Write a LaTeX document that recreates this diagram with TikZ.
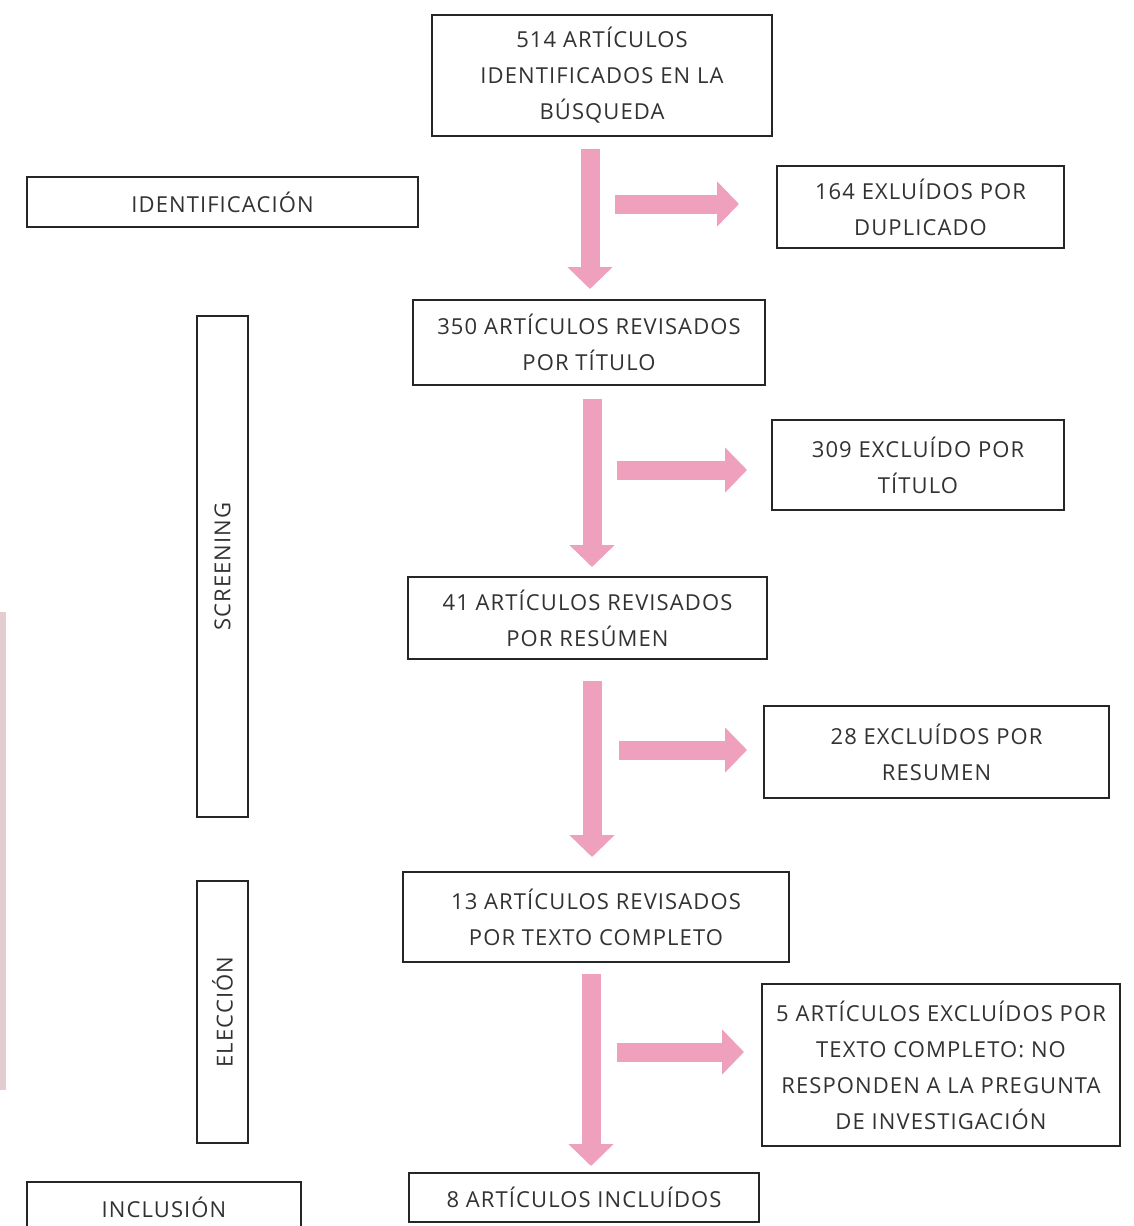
\documentclass[tikz,border=0pt]{standalone}
\usepackage{fontspec}
\setmainfont[LetterSpace=5]{Open Sans}
\usepackage{tikz}
\usetikzlibrary{arrows.meta}
\definecolor{flowpink}{RGB}{238,160,188}
\definecolor{stripbg}{RGB}{227,205,207}
\definecolor{textgrey}{RGB}{50,50,50}
\tikzset{
	boxstyle/.style={rectangle,draw=black!85,line width=2pt,fill=white,text=textgrey,align=center,inner sep=0pt},
	phasestyle/.style={boxstyle,rotate=90},
	arrowstyle/.style={draw=flowpink,line width=19pt,-{Triangle[width=44pt,length=22pt]}}
}

\begin{document}
\begin{tikzpicture}[x=1pt,y=-1pt]
	\fontsize{22}{36}\selectfont
	\useasboundingbox (0,0) rectangle (1133,1226);
	\clip (0,0) rectangle (1133,1226);
	\fill[stripbg] (0,612) rectangle (6,1090);
	% main column
	\node[boxstyle,minimum width=340,minimum height=121] (busq) at (602,75.5) {514 ARTÍCULOS\\IDENTIFICADOS EN LA\\BÚSQUEDA};
	\node[boxstyle,minimum width=352,minimum height=85] (tit) at (589,342.5) {350 ARTÍCULOS REVISADOS\\POR TÍTULO};
	\node[boxstyle,minimum width=359,minimum height=82] (res) at (587.5,618) {41 ARTÍCULOS REVISADOS\\POR RESÚMEN};
	\node[boxstyle,minimum width=386,minimum height=90] (txt) at (596,917) {13 ARTÍCULOS REVISADOS\\POR TEXTO COMPLETO};
	\node[boxstyle,minimum width=350,minimum height=49] (incl) at (584,1197.5) {8 ARTÍCULOS INCLUÍDOS};
	% excluded
	\node[boxstyle,minimum width=287,minimum height=82] (ex1) at (920.5,207) {164 EXLUÍDOS POR\\DUPLICADO};
	\node[boxstyle,minimum width=292,minimum height=90] (ex2) at (918,465) {309 EXCLUÍDO POR\\TÍTULO};
	\node[boxstyle,minimum width=345,minimum height=92] (ex3) at (936.5,752) {28 EXCLUÍDOS POR\\RESUMEN};
	\node[boxstyle,minimum width=358,minimum height=162] (ex4) at (941,1065) {5 ARTÍCULOS EXCLUÍDOS POR\\TEXTO COMPLETO: NO\\RESPONDEN A LA PREGUNTA\\DE INVESTIGACIÓN};
	% phases
	\node[boxstyle,minimum width=391,minimum height=50] (ident) at (222.5,202) {IDENTIFICACIÓN};
	\node[phasestyle,minimum width=501,minimum height=51] (scr) at (222.5,566.5) {SCREENING};
	\node[phasestyle,minimum width=262,minimum height=51] (elec) at (222.5,1012) {ELECCIÓN};
	\node[boxstyle,minimum width=274,minimum height=50] (inc) at (164,1207) {INCLUSIÓN};
	% arrows
	\coordinate (col) at (590,0);
	\draw[arrowstyle,shorten <=12pt,shorten >=10pt] (busq.south -| col) -- (tit.north -| col);
	\draw[arrowstyle,shorten <=13pt,shorten >=9pt] ([xshift=2pt]tit.south -| col) -- ([xshift=2pt]res.north -| col);
	\draw[arrowstyle,shorten <=21pt,shorten >=14pt] ([xshift=2pt]res.south -| col) -- ([xshift=2pt]txt.north -| col);
	\draw[arrowstyle,shorten <=11pt,shorten >=6pt] ([xshift=1pt]txt.south -| col) -- ([xshift=1pt]incl.north -| col);
	\coordinate (a1) at (615,204);
	\coordinate (a2) at (617,470);
	\coordinate (a3) at (619,750);
	\coordinate (a4) at (617,1052);
	\draw[arrowstyle,shorten >=37pt] (a1) -- (a1 -| ex1.west);
	\draw[arrowstyle,shorten >=24pt] (a2) -- (a2 -| ex2.west);
	\draw[arrowstyle,shorten >=16pt] (a3) -- (a3 -| ex3.west);
	\draw[arrowstyle,shorten >=17pt] (a4) -- (a4 -| ex4.west);
\end{tikzpicture}
\end{document}
